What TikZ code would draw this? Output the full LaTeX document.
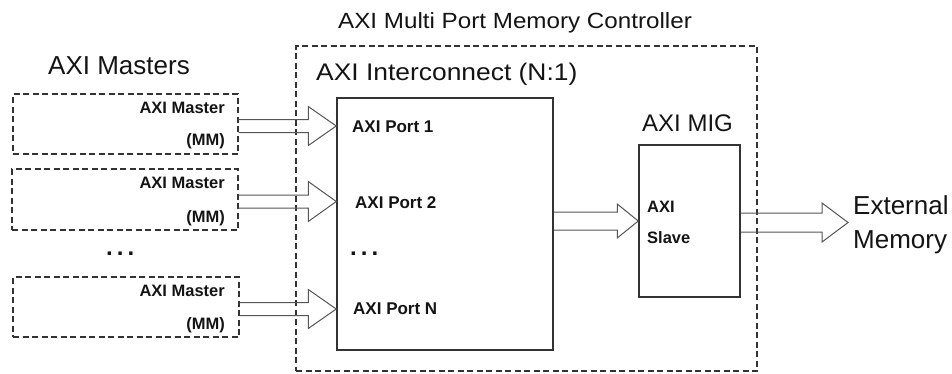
\documentclass[tikz,border=0pt]{standalone}
\usepackage{fontspec}
\setmainfont{Liberation Sans}
\newfontfamily\widefont[FakeStretch=1.1]{Liberation Sans}
\usetikzlibrary{calc}
\definecolor{boxcol}{HTML}{333333}
\definecolor{arrcol}{HTML}{555555}
\definecolor{txtcol}{HTML}{141414}
\newcommand{\blockarr}[5]{%
  \draw[arrowline] ($(#1)+(0,-#4)$) -- ($(#2)+(-#3,-#4)$) -- ($(#2)+(-#3,-#5)$) -- (#2)
    -- ($(#2)+(-#3,#5)$) -- ($(#2)+(-#3,#4)$) -- ($(#1)+(0,#4)$);}
\newcommand{\bigdots}{.\hspace{4pt}.\hspace{4pt}.}
\tikzset{
  masterbox/.style={draw=boxcol, line width=1.1pt, dash pattern=on 6pt off 3.5pt, inner sep=0pt},
  outerbox/.style={draw=boxcol, line width=1.1pt, dash pattern=on 6pt off 3.5pt, inner sep=0pt},
  solidbox/.style={draw=boxcol, line width=1.5pt, inner sep=0pt},
  arrowline/.style={draw=arrcol, line width=1pt, line join=miter},
  small/.style={inner sep=0pt, text=txtcol, font=\fontsize{16.5}{18}\selectfont\bfseries},
  port/.style={inner sep=0pt, text=txtcol, font=\fontsize{17}{19}\selectfont\bfseries, anchor=base west},
  big/.style={inner sep=0pt, text=txtcol, anchor=base west},
  dotsnode/.style={inner sep=0pt, text=txtcol, font=\fontsize{24}{26}\selectfont\bfseries, anchor=base west},
}
\begin{document}
\begin{tikzpicture}[x=1pt,y=-1pt]
\useasboundingbox (0,0) rectangle (952,373);
% outer controller box
\node[outerbox, minimum width=461pt, minimum height=325pt] (outer) at (526.5,208.5) {};
\node[big, font=\widefont\fontsize{22}{26}\selectfont] (title) at (338,28) {AXI Multi Port Memory Controller};
\node[big, font=\widefont\fontsize{24}{28}\selectfont] (ictitle) at (316,80) {AXI Interconnect (N:1)};
% masters
\node[big, font=\fontsize{26}{30}\selectfont] (mtitle) at (48,74) {AXI Masters};
\node[masterbox, minimum width=225pt, minimum height=60pt] (m1) at (125.5,124) {};
\node[masterbox, minimum width=226pt, minimum height=61pt] (m2) at (125,199.5) {};
\node[masterbox, minimum width=226pt, minimum height=60pt] (m3) at (126,307) {};
\node[small, anchor=base east] (m1a) at (225,113) {AXI Master};
\node[small, anchor=base east] (m1b) at (225,145) {(MM)};
\node[small, anchor=base east] (m2a) at (225,188) {AXI Master};
\node[small, anchor=base east] (m2b) at (225,222) {(MM)};
\node[small, anchor=base east] (m3a) at (225,296) {AXI Master};
\node[small, anchor=base east] (m3b) at (225,329) {(MM)};
\node[dotsnode] (mdots) at (106,255) {\bigdots};
% interconnect
\node[solidbox, minimum width=216pt, minimum height=252pt] (ic) at (445,224) {};
\node[port] (p1) at (352,132) {AXI Port 1};
\node[port] (p2) at (355,208) {AXI Port 2};
\node[dotsnode] (pdots) at (350,255) {\bigdots};
\node[port] (pn) at (353,314) {AXI Port N};
% MIG
\node[big, font=\fontsize{24}{28}\selectfont] (migtitle) at (642,131) {AXI MIG};
\node[solidbox, minimum width=101pt, minimum height=152pt] (mig) at (689.5,221) {};
\node[small, anchor=base west] (sl1) at (647,212) {AXI};
\node[small, anchor=base west] (sl2) at (647,243) {Slave};
% external memory
\node[big, font=\fontsize{26}{30}\selectfont] (ext1) at (853,214) {External};
\node[big, font=\fontsize{26}{30}\selectfont] (ext2) at (853,248) {Memory};
% arrows
\coordinate (t1) at (ic.west |- 0,126);
\coordinate (s1) at (m1.east |- t1);
\coordinate (t2) at (ic.west |- 0,201.5);
\coordinate (s2) at (m2.east |- t2);
\coordinate (t3) at (ic.west |- 0,309);
\coordinate (s3) at (m3.east |- t3);
\coordinate (t4) at (mig.west |- 0,221);
\coordinate (s4) at (ic.east |- t4);
\coordinate (s5) at (mig.east |- 0,222.5);
\coordinate (t5) at (848,222.5);
\blockarr{s1}{t1}{28}{6.5}{19.5}
\blockarr{s2}{t2}{28}{6.5}{20}
\blockarr{s3}{t3}{28}{6.5}{19.5}
\blockarr{s4}{t4}{21}{9}{17}
\blockarr{s5}{t5}{26}{9.5}{19.5}
\end{tikzpicture}
\end{document}
